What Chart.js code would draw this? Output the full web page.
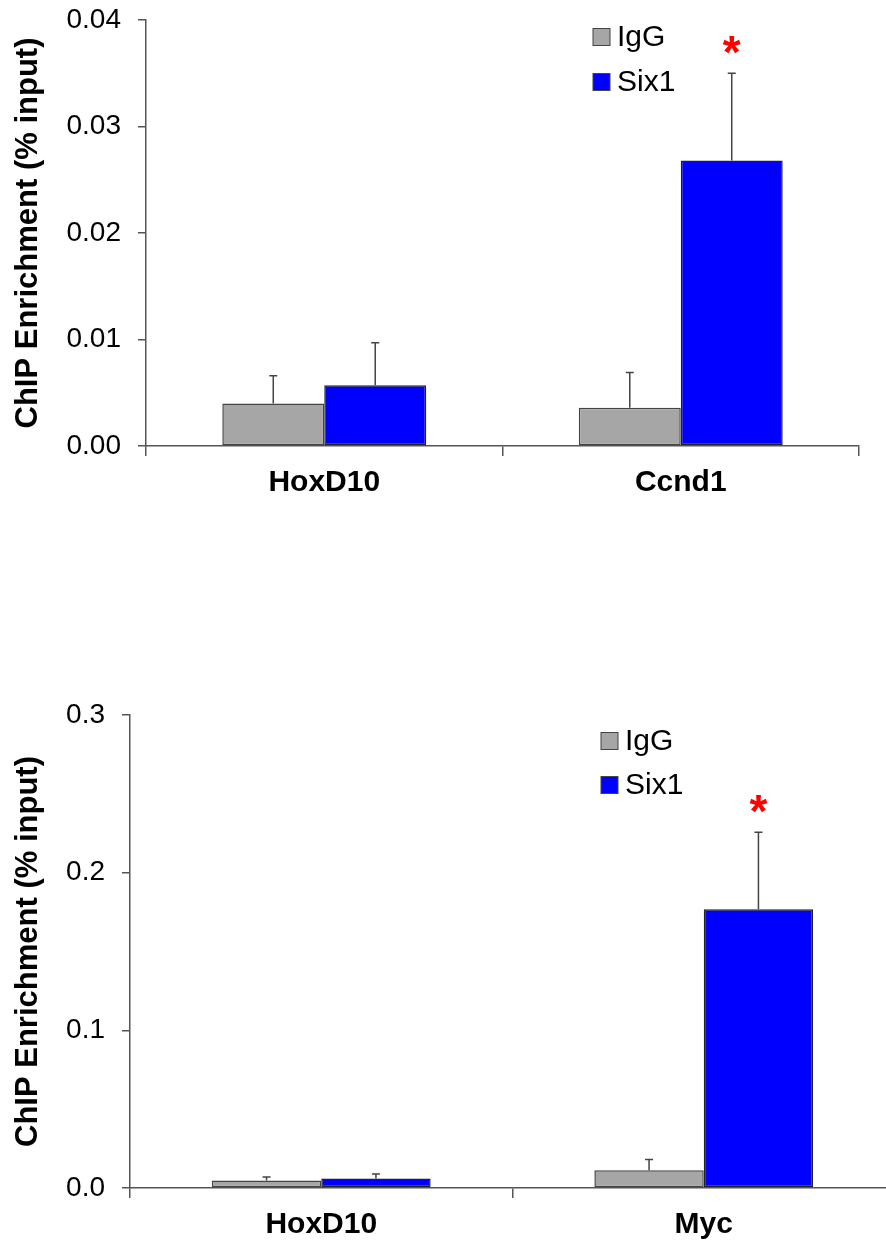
<!DOCTYPE html>
<html>
<head>
<meta charset="utf-8">
<script src="https://cdn.jsdelivr.net/npm/chart.js@4/dist/chart.umd.min.js"></script>
<style>
  html, body { margin: 0; padding: 0; background: #fff; overflow: hidden; }
  body { width: 886px; height: 1245px; position: relative; }
  canvas { position: absolute; left: 0; }
  #chart1 { top: 0; }
  #chart2 { top: 680px; }
</style>
</head>
<body>
<canvas id="chart1" width="886" height="520"></canvas>
<canvas id="chart2" width="900" height="564"></canvas>
<script>
// upper panel: HoxD10 vs Ccnd1
var genesA = ["HoxD10", "Ccnd1"];
var iggA = [0.0040, 0.0036];
var six1A = [0.0057, 0.0268];
var iggErrA = [0.0026, 0.0033];
var six1ErrA = [0.0040, 0.0082];
var starsA = [false, true];
var ticksA = [0, 0.01, 0.02, 0.03, 0.04];

// lower panel: HoxD10 vs Myc
var genesB = ["HoxD10", "Myc"];
var iggB = [0.0048, 0.0112];
var six1B = [0.0061, 0.1768];
var iggErrB = [0.0022, 0.0068];
var six1ErrB = [0.0028, 0.0488];
var starsB = [false, true];
var ticksB = [0, 0.1, 0.2, 0.3];

var FONT = "'Liberation Sans', Arial, sans-serif";
var AXIS = "#555";

// error bars (upper half only), significance stars and the inset legend
var extras = {
  id: "extras",
  afterDatasetsDraw: function(chart, args, opts) {
    var ctx = chart.ctx;
    var y = chart.scales.y;
    ctx.save();

    chart.data.datasets.forEach(function(ds, i) {
      var meta = chart.getDatasetMeta(i);
      meta.data.forEach(function(bar, j) {
        var top = y.getPixelForValue(ds.data[j] + ds.errors[j]);
        ctx.strokeStyle = "#444";
        ctx.lineWidth = 1.5;
        ctx.beginPath();
        ctx.moveTo(bar.x, bar.y);
        ctx.lineTo(bar.x, top);
        ctx.moveTo(bar.x - 4, top);
        ctx.lineTo(bar.x + 4, top);
        ctx.stroke();

        if (ds.stars && ds.stars[j]) {
          ctx.font = "bold 46px " + FONT;
          ctx.fillStyle = "#ff0000";
          ctx.textAlign = "center";
          ctx.textBaseline = "alphabetic";
          var m = ctx.measureText("*");
          var cy = top - opts.starGap;
          ctx.fillText("*", bar.x, cy + (m.actualBoundingBoxAscent - m.actualBoundingBoxDescent) / 2);
        }
      });
    });

    ctx.font = "30px " + FONT;
    ctx.textAlign = "left";
    ctx.textBaseline = "middle";
    chart.data.datasets.forEach(function(ds, i) {
      var cy = opts.legendY + i * opts.legendGap;
      ctx.fillStyle = ds.backgroundColor;
      ctx.fillRect(opts.legendX, cy - 8.5, 17, 17);
      ctx.strokeStyle = "#444";
      ctx.lineWidth = 1;
      ctx.strokeRect(opts.legendX, cy - 8.5, 17, 17);
      ctx.fillStyle = "#000";
      ctx.fillText(ds.label, opts.legendX + 24, cy + 1);
    });

    ctx.restore();
  }
};

function makeChart(id, genes, igg, six1, iggErr, six1Err, stars, ticks, digits, layout) {
  var ctx = document.getElementById(id).getContext("2d");
  return new Chart(ctx, {
    type: "bar",
    data: {
      labels: genes,
      datasets: [
        {
          label: "IgG",
          data: igg,
          errors: iggErr,
          backgroundColor: "#a6a6a6",
          borderColor: "#444",
          borderWidth: 1.5,
          borderSkipped: false
        },
        {
          label: "Six1",
          data: six1,
          errors: six1Err,
          stars: stars,
          backgroundColor: "#0000ff",
          borderColor: "#222",
          borderWidth: 1.5,
          borderSkipped: false
        }
      ]
    },
    options: {
      responsive: false,
      animation: false,
      devicePixelRatio: 1,
      layout: { padding: { top: layout.top, right: layout.right, left: 0, bottom: 0 } },
      datasets: { bar: { categoryPercentage: 0.572, barPercentage: 1.0 } },
      plugins: {
        legend: { display: false },
        tooltip: { enabled: false },
        extras: {
          legendX: layout.legendX,
          legendY: layout.legendY,
          legendGap: layout.legendGap,
          starGap: 28
        }
      },
      scales: {
        x: {
          type: "category",
          offset: true,
          grid: { offset: true, drawOnChartArea: false, tickLength: 10, color: AXIS, lineWidth: 1.5 },
          border: { color: AXIS, width: 1.5 },
          ticks: { color: "#000", padding: 9, font: { family: FONT, size: 30, weight: "bold" } },
          afterFit: function(s) { s.height = layout.xHeight; }
        },
        y: {
          min: ticks[0],
          max: ticks[ticks.length - 1],
          grid: { drawOnChartArea: false, tickLength: 8, color: AXIS, lineWidth: 1.5 },
          border: { color: AXIS, width: 1.5 },
          afterBuildTicks: function(s) {
            s.ticks = ticks.map(function(v) { return { value: v }; });
          },
          ticks: {
            color: "#000",
            padding: 17,
            font: { family: FONT, size: 28 },
            callback: function(v) { return Number(v).toFixed(digits); }
          },
          title: {
            display: true,
            text: "ChIP Enrichment (% input)",
            color: "#000",
            padding: { top: 10, bottom: 0 },
            font: { family: FONT, size: 31, weight: "bold" }
          },
          afterFit: function(s) {
            s.width = layout.yWidth;
            // the layout padding already leaves room for the top tick label
            s.paddingTop = 0;
            s.paddingBottom = 0;
          }
        }
      }
    },
    plugins: [extras]
  });
}

makeChart("chart1", genesA, iggA, six1A, iggErrA, six1ErrA, starsA, ticksA, 2,
  { top: 20, right: 27, xHeight: 74, yWidth: 146, legendX: 593, legendY: 37, legendGap: 45 });

makeChart("chart2", genesB, iggB, six1B, iggErrB, six1ErrB, starsB, ticksB, 1,
  { top: 35, right: 5, xHeight: 56, yWidth: 130, legendX: 601, legendY: 61, legendGap: 44 });
</script>
</body>
</html>
